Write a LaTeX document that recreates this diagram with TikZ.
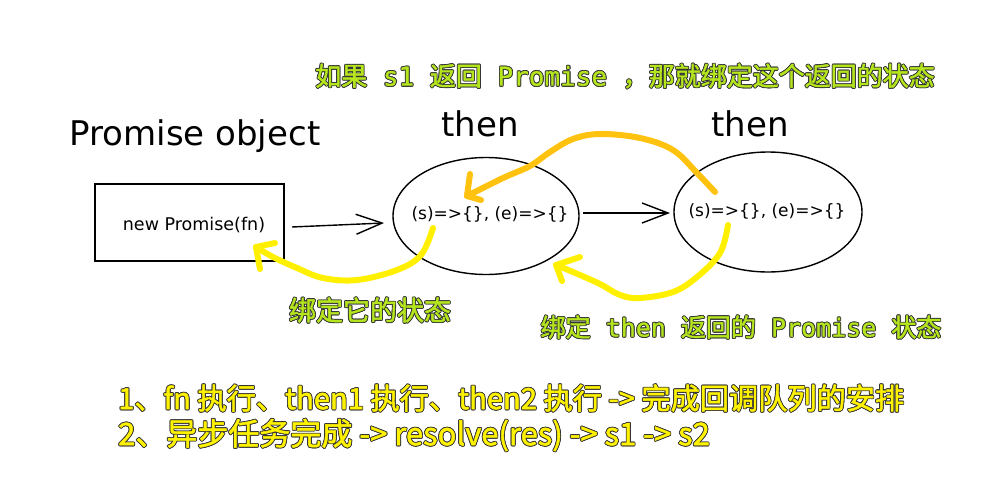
\documentclass[tikz,border=0pt]{standalone}
\usepackage{fontspec}
\setmainfont{DejaVu Sans}
\newfontfamily\cjk{Noto Sans CJK SC}[FakeBold=1.6]
\newfontfamily\mono{DejaVu Sans Mono}[FakeBold=0.8]
\usetikzlibrary{shapes.geometric,arrows.meta}
\definecolor{lime}{HTML}{B5E61D}
\definecolor{ylw}{HTML}{FFF200}
\definecolor{org}{HTML}{FFC20E}
\definecolor{yl}{HTML}{FFF000}
\definecolor{olc}{HTML}{353535}
\newbox\olbox
\newcommand\oofs[2]{\rlap{\raisebox{#2}{\hspace*{#1}\textcolor{olc}{\copy\olbox}}}}
\newcommand\outl[2]{\begingroup\setbox\olbox\hbox{#2}%
\oofs{0.9pt}{0pt}\oofs{-0.9pt}{0pt}\oofs{0pt}{0.9pt}\oofs{0pt}{-0.9pt}%
\oofs{0.65pt}{0.65pt}\oofs{-0.65pt}{0.65pt}\oofs{0.65pt}{-0.65pt}\oofs{-0.65pt}{-0.65pt}%
\textcolor{#1}{\copy\olbox}\endgroup}
\tikzset{
  hand/.style={font=\fontsize{34}{40}\selectfont, inner sep=0pt},
  code/.style={font=\fontsize{17}{20}\selectfont, inner sep=0pt},
  lbl/.style={inner sep=0pt},
  blk/.style={line width=1.4pt, draw=black},
  garrow/.style={-{Straight Barb[length=26pt,width=20pt]}, line width=1.4pt},
  hl/.style={line width=6pt, line cap=round, line join=round},
}
\begin{document}
\begin{tikzpicture}[x=1pt,y=-1pt]
\useasboundingbox[fill=white] (0,0) rectangle (986,485);

% handwritten titles
\node[hand] (po) at (195,136) {Promise object};
\node[hand] (th1) at (480,124) {then};
\node[hand] (th2) at (750,124) {then};

% box
\node[blk, rectangle, minimum width=189pt, minimum height=77pt] (box) at (189.5,222.5) {};
\node[font=\fontsize{17.5}{20}\selectfont, inner sep=0pt] (boxt) at (194,225) {new Promise(fn)};

% ellipses
\node[blk, ellipse, minimum width=186pt, minimum height=117pt] (e1) at (486,216) {};
\node[code] (c1) at (490,214) {(s)=>\{\}, (e)=>\{\}};
\node[blk, ellipse, minimum width=188pt, minimum height=120pt] (e2) at (768,212) {};
\node[code] (c2) at (767,211) {(s)=>\{\}, (e)=>\{\}};

% black arrows
\coordinate (a1s) at (292,227);
\coordinate (a1e) at (384,223);
\coordinate (a2s) at (583,213);
\coordinate (a2e) at (670,213);
\draw[garrow] (a1s) -- (a1e);
\draw[garrow] (a2s) -- (a2e);

% orange curve
\coordinate (o1) at (715,192);
\coordinate (o2) at (467,196);
\draw[hl, org] plot[smooth, tension=0.6] coordinates {(o1) (697,173) (673,150) (640,138) (600,134) (573,139) (550,152) (530,166) (503,178) (o2)};
\draw[hl, org] (470,174) -- (o2) -- (481,200);

% yellow curve 1
\coordinate (y1) at (433,228);
\coordinate (y2) at (256,247);
\draw[hl, yl] plot[smooth, tension=0.6] coordinates {(y1) (421,255) (397,270) (357,280) (323,278) (297,268) (273,257) (y2)};
\draw[hl, yl] (275,243) -- (y2) -- (260,269);

% yellow curve 2
\coordinate (z1) at (728,225);
\coordinate (z2) at (556,265);
\draw[hl, yl] plot[smooth, tension=0.6] coordinates {(z1) (720,253) (697,277) (673,292) (640,298) (620,295) (600,284) (573,272) (z2)};
\draw[hl, yl] (580,257) -- (z2) -- (562,281);

% labels
\node[lbl] (ltop) at (625,76) {\outl{lime}{\fontsize{26}{30}\selectfont\cjk 如果{\mono\ s1\ }返回{\mono\ Promise\ }，那就绑定这个返回的状态}};
\node[lbl] (lmid) at (370,310) {\outl{lime}{\fontsize{27}{30}\selectfont\cjk 绑定它的状态}};
\node[lbl] (lrt) at (741,327) {\outl{lime}{\fontsize{25}{30}\selectfont\cjk 绑定{\mono\ then\ }返回的{\mono\ Promise\ }状态}};
\node[lbl, anchor=west] (l1) at (118,398) {\outl{ylw}{\fontsize{29.2}{34}\selectfont\cjk 1、fn 执行、then1 执行、then2 执行 -> 完成回调队列的安排}};
\node[lbl, anchor=west] (l2) at (118,435) {\outl{ylw}{\fontsize{31}{34}\selectfont\cjk 2、异步任务完成 -> resolve(res) -> s1 -> s2}};
\end{tikzpicture}
\end{document}
